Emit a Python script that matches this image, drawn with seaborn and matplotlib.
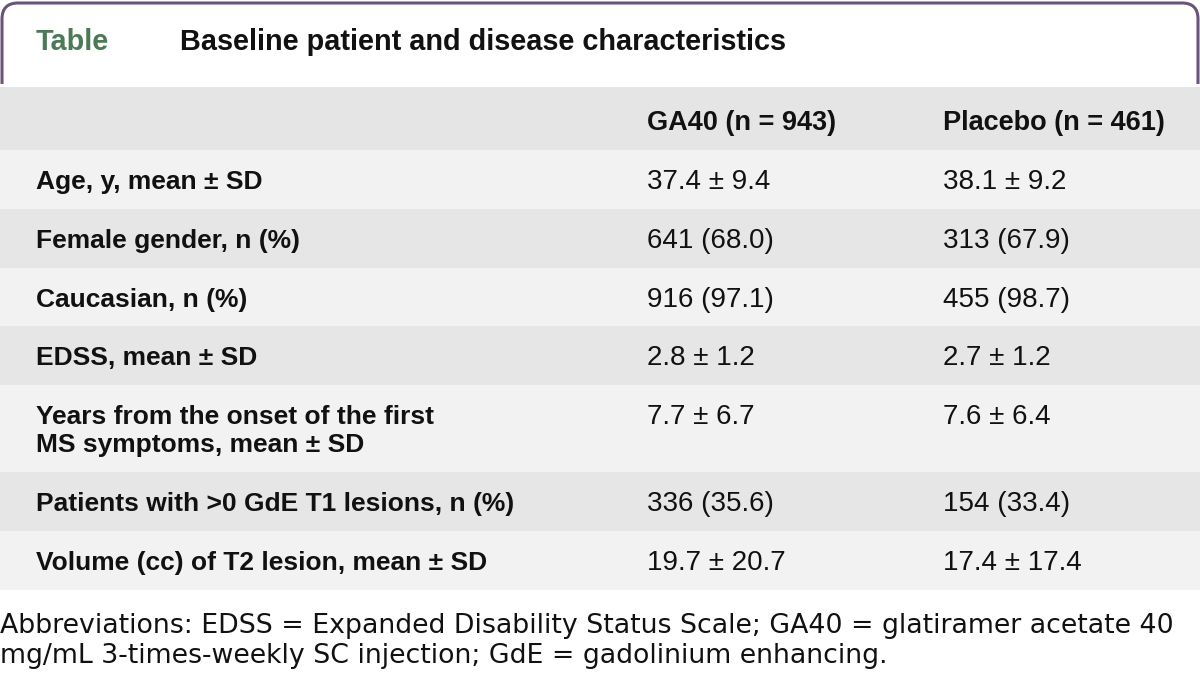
import matplotlib
matplotlib.use("Agg")
import matplotlib.pyplot as plt
from matplotlib.path import Path
from matplotlib.patches import PathPatch
import seaborn as sns

# data
title_tag = "Table"
title_text = "Baseline patient and disease characteristics"
col_headers = ["GA40 (n = 943)", "Placebo (n = 461)"]
row_labels = [
    "Age, y, mean \u00b1 SD",
    "Female gender, n (%)",
    "Caucasian, n (%)",
    "EDSS, mean \u00b1 SD",
    "Years from the onset of the first\nMS symptoms, mean \u00b1 SD",
    "Patients with >0 GdE T1 lesions, n (%)",
    "Volume (cc) of T2 lesion, mean \u00b1 SD",
]
ga40_values = ["37.4 \u00b1 9.4", "641 (68.0)", "916 (97.1)", "2.8 \u00b1 1.2",
               "7.7 \u00b1 6.7", "336 (35.6)", "19.7 \u00b1 20.7"]
placebo_values = ["38.1 \u00b1 9.2", "313 (67.9)", "455 (98.7)", "2.7 \u00b1 1.2",
                  "7.6 \u00b1 6.4", "154 (33.4)", "17.4 \u00b1 17.4"]
footnote = ("Abbreviations: EDSS = Expanded Disability Status Scale; GA40 = glatiramer acetate 40\n"
            "mg/mL 3-times-weekly SC injection; GdE = gadolinium enhancing.")

sns.set_theme(style="white")
plt.rcParams['font.family'] = ['Liberation Sans', 'DejaVu Sans']

W, H = 1200, 684
fig = plt.figure(figsize=(12, 6.84), dpi=100)
ax = fig.add_axes([0, 0, 1, 1])
ax.set_xlim(0, W)
ax.set_ylim(H, 0)
ax.axis("off")

purple = "#6b5378"
green = "#4c7a57"
header_bg = "#e5e5e5"
light_bg = "#f2f2f2"
dark_bg = "#e6e6e6"
ink = "#111111"

# frame around the title (open at the bottom)
r = 16
x0, x1, y0, y1 = 2, 1198, 3, 84
verts = [(x0, y1), (x0, y0 + r), (x0, y0), (x0 + r, y0),
         (x1 - r, y0), (x1, y0), (x1, y0 + r), (x1, y1)]
codes = [Path.MOVETO, Path.LINETO, Path.CURVE3, Path.CURVE3,
         Path.LINETO, Path.CURVE3, Path.CURVE3, Path.LINETO]
ax.add_patch(PathPatch(Path(verts, codes), fill=False, edgecolor=purple, lw=2.2))

ax.text(36, 50, title_tag, color=green, fontsize=20.8, fontweight="bold", va="baseline")
ax.text(180, 50, title_text, color=ink, fontsize=20.8, fontweight="bold", va="baseline")

col_x = [36, 647, 943]
label_fs = 19
head_fs = 19.5
value_fs = 20
line_h = 28
single_h = 58.8

# header row
top = 87
ax.axhspan(top, top + 63, color=header_bg, lw=0)
for cx, txt in zip(col_x[1:], col_headers):
    ax.text(cx, top + 43, txt, fontsize=head_fs, fontweight="bold", color=ink, va="baseline")
top += 63

for i, (lab, a, b) in enumerate(zip(row_labels, ga40_values, placebo_values)):
    n_lines = lab.count("\n") + 1
    h = single_h + (n_lines - 1) * line_h
    ax.axhspan(top, top + h, color=light_bg if i % 2 == 0 else dark_bg, lw=0)
    for k, part in enumerate(lab.split("\n")):
        ax.text(col_x[0], top + 39 + k * line_h, part, fontsize=label_fs,
                fontweight="bold", color=ink, va="baseline")
    ax.text(col_x[1], top + 39, a, fontsize=value_fs, color=ink, va="baseline")
    ax.text(col_x[2], top + 39, b, fontsize=value_fs, color=ink, va="baseline")
    top += h

for k, part in enumerate(footnote.split("\n")):
    ax.text(0, 633 + k * 30, part, fontsize=19.3, color=ink, va="baseline",
            family="DejaVu Sans")

fig.savefig("out.png", dpi=100)
